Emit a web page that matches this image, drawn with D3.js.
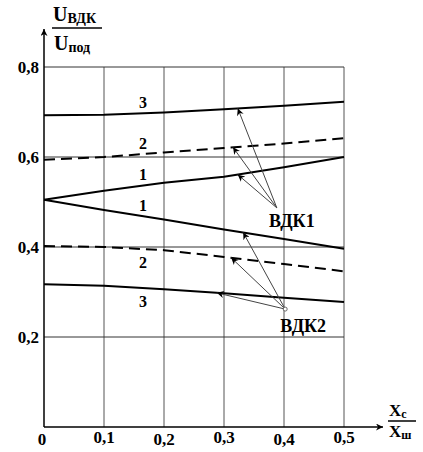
<!DOCTYPE html>
<html>
<head>
<meta charset="utf-8">
<script src="https://cdn.jsdelivr.net/npm/d3@7"></script>
<style>
    body { margin: 0; background: #fff; }
    text { font-family: "Liberation Serif", "Times New Roman", serif; font-weight: bold; fill: #000; }
</style>
</head>
<body>
<div id="chart"></div>
<script>
// X values (Xc / Xш)
var xValues = [0, 0.1, 0.2, 0.3, 0.4, 0.5];
var xTicks = [0, 0.1, 0.2, 0.3, 0.4, 0.5];
var yTicks = [0.2, 0.4, 0.6, 0.8];

// ВДК1 curves
var vdk1Curve3 = [0.693, 0.694, 0.699, 0.706, 0.714, 0.723];
var vdk1Curve2 = [0.594, 0.600, 0.610, 0.620, 0.630, 0.642];
var vdk1Curve1 = [0.505, 0.525, 0.543, 0.556, 0.577, 0.600];
// ВДК2 curves
var vdk2Curve1 = [0.505, 0.482, 0.461, 0.439, 0.418, 0.396];
var vdk2Curve2 = [0.402, 0.400, 0.393, 0.378, 0.362, 0.346];
var vdk2Curve3 = [0.317, 0.314, 0.306, 0.297, 0.287, 0.278];

var curves = [
    {name: '3', values: vdk1Curve3, dashed: false, above: true},
    {name: '2', values: vdk1Curve2, dashed: true, above: true},
    {name: '1', values: vdk1Curve1, dashed: false, above: true},
    {name: '1', values: vdk2Curve1, dashed: false, above: true},
    {name: '2', values: vdk2Curve2, dashed: true, above: false},
    {name: '3', values: vdk2Curve3, dashed: false, above: false}
];

var width = 423, height = 452;
var x = d3.scaleLinear().domain([0, 0.5]).range([44, 344]);
var y = d3.scaleLinear().domain([0, 0.8]).range([427, 67]);

var svg = d3.select('#chart').append('svg')
    .attr('width', width)
    .attr('height', height);

svg.append('defs').append('marker')
    .attr('id', 'tip')
    .attr('viewBox', '0 0 10 10')
    .attr('refX', 10).attr('refY', 5)
    .attr('markerWidth', 10).attr('markerHeight', 7)
    .attr('markerUnits', 'userSpaceOnUse')
    .attr('orient', 'auto')
    .append('path')
    .attr('d', 'M0,0 L10,5 L0,10 L3,5 Z')
    .attr('fill', '#000');

// grid
var grid = svg.append('g').attr('class', 'grid');
grid.selectAll('.vline').data(xTicks.slice(1)).enter()
    .append('line')
    .attr('x1', d => x(d)).attr('x2', d => x(d))
    .attr('y1', y(0.8)).attr('y2', y(0))
    .attr('stroke', '#555').attr('stroke-width', 1);
grid.selectAll('.hline').data(yTicks).enter()
    .append('line')
    .attr('x1', x(0)).attr('x2', x(0.5))
    .attr('y1', d => y(d)).attr('y2', d => y(d))
    .attr('stroke', '#333').attr('stroke-width', 1);

// axes with arrows
svg.append('line')
    .attr('x1', x(0)).attr('x2', x(0))
    .attr('y1', y(0)).attr('y2', 29)
    .attr('stroke', '#000').attr('stroke-width', 1.5)
    .attr('marker-end', 'url(#tip)');
svg.append('line')
    .attr('x1', x(0)).attr('x2', 383)
    .attr('y1', y(0)).attr('y2', y(0))
    .attr('stroke', '#000').attr('stroke-width', 1.5)
    .attr('marker-end', 'url(#tip)');

// tick labels
svg.selectAll('.ylab').data(yTicks).enter()
    .append('text')
    .attr('x', 39).attr('y', d => y(d) + 6)
    .attr('text-anchor', 'end')
    .attr('font-size', 17)
    .text(d => d3.format('.1f')(d).replace('.', ','));
svg.selectAll('.xlab').data(xTicks).enter()
    .append('text')
    .attr('x', d => x(d) - (d === 0 ? 2 : 0)).attr('y', (d, i) => 444 + (i % 2 === 0 ? 1 : -1))
    .attr('text-anchor', 'middle')
    .attr('font-size', 17)
    .text(d => d === 0 ? '0' : d3.format('.1f')(d).replace('.', ','));

// curves
var line = d3.line()
    .x((d, i) => x(xValues[i]))
    .y(d => y(d));

svg.selectAll('.curve').data(curves).enter()
    .append('path')
    .attr('d', d => line(d.values))
    .attr('fill', 'none')
    .attr('stroke', '#000')
    .attr('stroke-width', 2)
    .attr('stroke-dasharray', d => d.dashed ? '11,6' : null);

// curve numbers near x = 0.165
svg.selectAll('.cnum').data(curves).enter()
    .append('text')
    .attr('x', x(0.165))
    .attr('y', d => {
        var f = d3.scaleLinear().domain(xValues).range(d.values);
        return d.above ? y(f(0.165)) - 5 : y(f(0.165)) + 19;
    })
    .attr('text-anchor', 'middle')
    .attr('font-size', 16)
    .text(d => d.name);

// annotation arrows
function curveAt(values, xv) {
    var f = d3.scaleLinear().domain(xValues).range(values);
    return f(xv);
}

var vdk1Tips = [[vdk1Curve3, 0.323], [vdk1Curve2, 0.315], [vdk1Curve1, 0.323]];
var vdk2Tips = [[vdk2Curve1, 0.332], [vdk2Curve2, 0.312], [vdk2Curve3, 0.288]];

function drawArrows(tips, sx, sy) {
    svg.append('g').selectAll('line').data(tips).enter()
        .append('line')
        .attr('x1', sx).attr('y1', sy)
        .attr('x2', d => x(d[1]))
        .attr('y2', d => y(curveAt(d[0], d[1])))
        .attr('stroke', '#444')
        .attr('stroke-width', 1)
        .attr('marker-end', 'url(#tip)');
}
drawArrows(vdk1Tips, x(0.388), y(0.487));
drawArrows(vdk2Tips, x(0.402), y(0.262));
svg.append('circle')
    .attr('cx', x(0.402)).attr('cy', y(0.262)).attr('r', 2)
    .attr('fill', '#fff').attr('stroke', '#666');

svg.append('text')
    .attr('x', x(0.413)).attr('y', 227)
    .attr('text-anchor', 'middle')
    .attr('font-size', 18)
    .text('ВДК1');
svg.append('text')
    .attr('x', x(0.432)).attr('y', 332)
    .attr('text-anchor', 'middle')
    .attr('font-size', 18)
    .text('ВДК2');

// axis titles
var yt = svg.append('g');
yt.append('text').attr('x', 53).attr('y', 21).attr('font-size', 20)
    .text('U').append('tspan').attr('font-size', 14).attr('dy', 2).text('ВДК');
yt.append('line').attr('x1', 52).attr('x2', 102).attr('y1', 28).attr('y2', 28)
    .attr('stroke', '#000').attr('stroke-width', 1.5);
yt.append('text').attr('x', 54).attr('y', 50).attr('font-size', 20)
    .text('U').append('tspan').attr('font-size', 14).attr('dy', 2).text('под');

var xt = svg.append('g');
xt.append('text').attr('x', 389).attr('y', 416).attr('font-size', 17)
    .text('X').append('tspan').attr('font-size', 12).attr('dy', 2).text('c');
xt.append('line').attr('x1', 388).attr('x2', 416).attr('y1', 421).attr('y2', 421)
    .attr('stroke', '#000').attr('stroke-width', 1.5);
xt.append('text').attr('x', 389).attr('y', 437).attr('font-size', 17)
    .text('X').append('tspan').attr('font-size', 12).attr('dy', 2).text('ш');
</script>
</body>
</html>
